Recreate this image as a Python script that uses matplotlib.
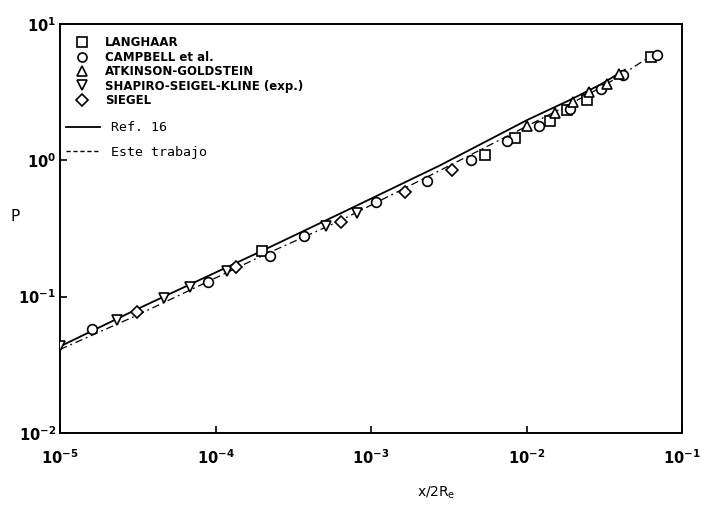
import numpy as np
import matplotlib
matplotlib.use("Agg")
import matplotlib.pyplot as plt
from matplotlib.lines import Line2D
from matplotlib.ticker import FuncFormatter, LogLocator, NullLocator

plt.rcParams['mathtext.default'] = 'regular'

# ---- data (log10 values) ----
langhaar_lx = [-3.701, -2.267, -2.074, -1.849, -1.740, -1.611, -1.199]
langhaar_lp = [-0.664, 0.037, 0.162, 0.288, 0.369, 0.443, 0.760]

campbell_lx = [-4.794, -4.048, -3.650, -3.431, -2.968, -2.640, -2.357, -2.125,
               -1.920, -1.720, -1.521, -1.379, -1.161]
campbell_lp = [-1.240, -0.893, -0.701, -0.553, -0.303, -0.155, 0.000, 0.140,
               0.251, 0.376, 0.524, 0.627, 0.775]

atkinson_lx = [-1.997, -1.817, -1.701, -1.598, -1.482, -1.405]
atkinson_lp = [0.251, 0.347, 0.428, 0.502, 0.561, 0.635]

shapiro_lx = [-5.000, -4.633, -4.331, -4.164, -3.926, -3.289, -3.090]
shapiro_lp = [-1.365, -1.173, -1.011, -0.930, -0.812, -0.480, -0.384]

siegel_lx = [-4.505, -3.868, -3.193, -2.781, -2.479]
siegel_lp = [-1.114, -0.782, -0.450, -0.229, -0.074]

ref16_lx = [-5.000, -4.505, -3.701, -3.199, -2.556, -1.997, -1.720, -1.527, -1.367]
ref16_lp = [-1.365, -1.092, -0.664, -0.391, -0.037, 0.295, 0.443, 0.554, 0.664]

este_lx = [-5.000, -4.505, -3.701, -3.199, -2.556, -1.997, -1.720, -1.527, -1.367, -1.238]
este_lp = [-1.387, -1.137, -0.701, -0.443, -0.074, 0.251, 0.413, 0.531, 0.642, 0.738]

def tp(a):
    return 10.0 ** np.asarray(a)

fig = plt.figure(figsize=(7.01, 5.07), dpi=100)
ax = fig.add_axes([0.0856, 0.146, 0.8873, 0.8067])
ax.set_xscale('log')
ax.set_yscale('log')
ax.set_xlim(1e-5, 1e-1)
ax.set_ylim(1e-2, 1e1)

ax.plot(tp(ref16_lx), tp(ref16_lp), '-', color='black', lw=1.3, zorder=2)
ax.plot(tp(este_lx), tp(este_lp), color='black', lw=0.9,
        dashes=(6, 3, 1.5, 3), zorder=2)

mk = dict(mfc='white', mec='black', mew=1.2, ls='none', zorder=3)
ax.plot(tp(langhaar_lx), tp(langhaar_lp), marker='s', ms=6.5, **mk)
ax.plot(tp(campbell_lx), tp(campbell_lp), marker='o', ms=7, **mk)
ax.plot(tp(atkinson_lx), tp(atkinson_lp), marker='^', ms=7, **mk)
ax.plot(tp(shapiro_lx), tp(shapiro_lp), marker='v', ms=7, **mk)
ax.plot(tp(siegel_lx), tp(siegel_lp), marker='D', ms=6.5, **mk)

# ticks
ax.xaxis.set_major_locator(LogLocator(base=10, numticks=10))
ax.yaxis.set_major_locator(LogLocator(base=10, numticks=10))
ax.xaxis.set_minor_locator(NullLocator())
ax.yaxis.set_minor_locator(NullLocator())
fmt = FuncFormatter(lambda v, p: r'$\mathbf{10^{%d}}$' % int(round(np.log10(v))))
ax.xaxis.set_major_formatter(fmt)
ax.yaxis.set_major_formatter(fmt)
ax.tick_params(which='major', direction='in', length=5, width=1.2,
               labelsize=10.5)
ax.tick_params(axis='x', pad=11)
ax.tick_params(axis='y', pad=3)
for s in ax.spines.values():
    s.set_linewidth(1.4)

ax.set_xlabel('x/2R$_e$', fontsize=10)
ax.xaxis.set_label_coords(0.605, -0.127)
ax.set_ylabel('P', rotation=0, fontsize=11)
ax.yaxis.set_label_coords(-0.072, 0.51)

# legends
mh = dict(mfc='white', mec='black', mew=1.2, ls='none', ms=6.5, color='black')
h1 = [Line2D([], [], marker='s', **mh), Line2D([], [], marker='o', **mh),
      Line2D([], [], marker='^', **mh), Line2D([], [], marker='v', **mh),
      Line2D([], [], marker='D', **mh)]
l1 = ['LANGHAAR', 'CAMPBELL et al.', 'ATKINSON-GOLDSTEIN',
      'SHAPIRO-SEIGEL-KLINE (exp.)', 'SIEGEL']
leg1 = ax.legend(h1, l1, loc='upper left', bbox_to_anchor=(0.013, 0.99),
                 frameon=False, handlelength=1.0, handletextpad=1.4,
                 labelspacing=0.12, borderaxespad=0.3,
                 prop=dict(family='DejaVu Sans', weight='bold', size=8.5))
ax.add_artist(leg1)
h2 = [Line2D([], [], color='black', lw=1.3),
      Line2D([], [], color='black', lw=1.0, ls=(0, (3, 2)))]
l2 = ['Ref. 16', 'Este trabajo']
ax.legend(h2, l2, loc='upper left', bbox_to_anchor=(-0.005, 0.785),
          frameon=False, handlelength=2.6, handletextpad=0.8,
          labelspacing=0.9, borderaxespad=0.3,
          prop=dict(family='DejaVu Sans Mono', size=9.5))

fig.savefig('out.png', dpi=100)
